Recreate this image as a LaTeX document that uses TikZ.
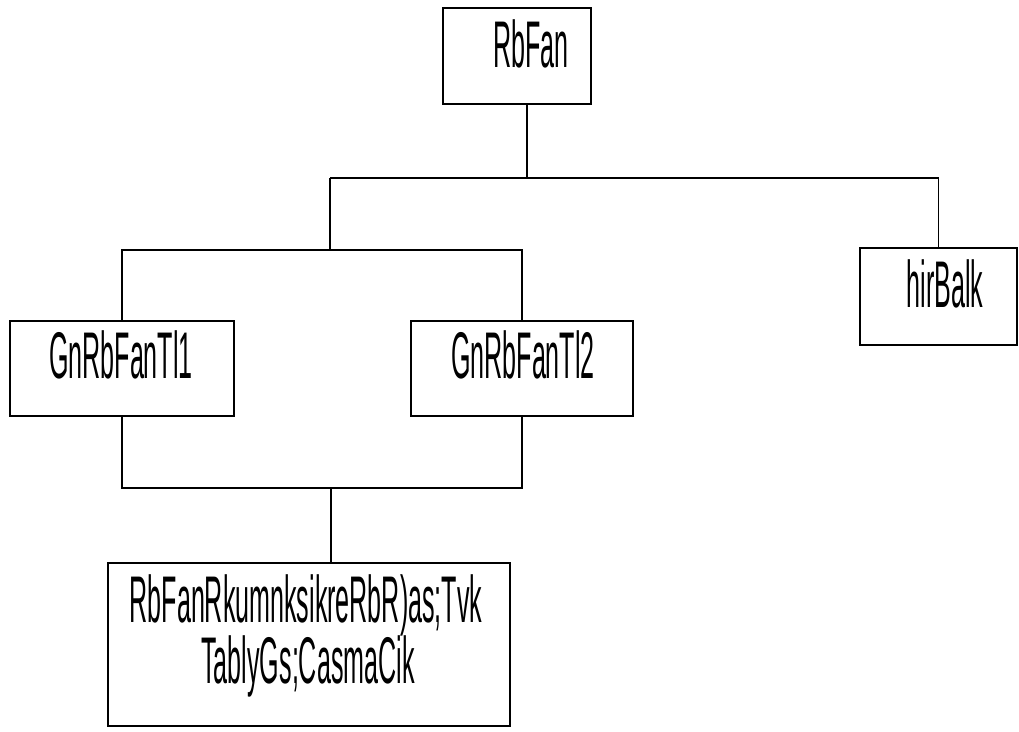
\documentclass[tikz,border=0pt]{standalone}
\usepackage{fontspec}
\setmainfont[FakeStretch=0.38]{Liberation Sans}
\usetikzlibrary{calc}
\begin{document}
\begin{tikzpicture}[x=1pt,y=-1pt,
  box/.style={draw, line width=1.3pt, rectangle, inner sep=0pt},
  txt/.style={anchor=base, inner sep=0pt, font=\fontsize{66}{68}\selectfont},
  conn/.style={line width=1.3pt}]
\useasboundingbox (0,0) rectangle (1019,731);
\node[box, minimum width=148pt, minimum height=96pt] (top) at (517,56) {};
\node[box, minimum width=157pt, minimum height=97pt] (right) at (938.5,296.5) {};
\node[box, minimum width=224pt, minimum height=95pt] (g1) at (122,368.5) {};
\node[box, minimum width=222pt, minimum height=95pt] (g2) at (522,368.5) {};
\node[box, minimum width=402pt, minimum height=163pt] (bot) at (309,644.5) {};
\node[txt] (ttop) at (531,67) {RbFan};
\node[txt] (tright) at (945,307) {hirBalk};
\node[txt] (tg1) at (121,378) {GnRbFanTl1};
\node[txt] (tg2) at (523,378) {GnRbFanTl2};
\node[txt] (tb1) at (306,622) {RbFanRkumnksikreRbR)as;Tvk};
\node[txt] (tb2) at (308,683) {TablyGs;CasmaCik};
\coordinate (j1) at (527,178);
\coordinate (j2) at (330,250);
\coordinate (j3) at (331,488);
\draw[conn] (top.south -| j1) -- (j1);
\draw[conn] (j2 |- j1) -- (right.north |- j1) -- (right.north);
\draw[conn] (j2 |- j1) -- (j2);
\draw[conn] (g1.north) -- (g1.north |- j2) -- (g2.north |- j2) -- (g2.north);
\draw[conn] (g1.south) -- (g1.south |- j3) -- (g2.south |- j3) -- (g2.south);
\draw[conn] (j3) -- (j3 |- bot.north);
\end{tikzpicture}
\end{document}
